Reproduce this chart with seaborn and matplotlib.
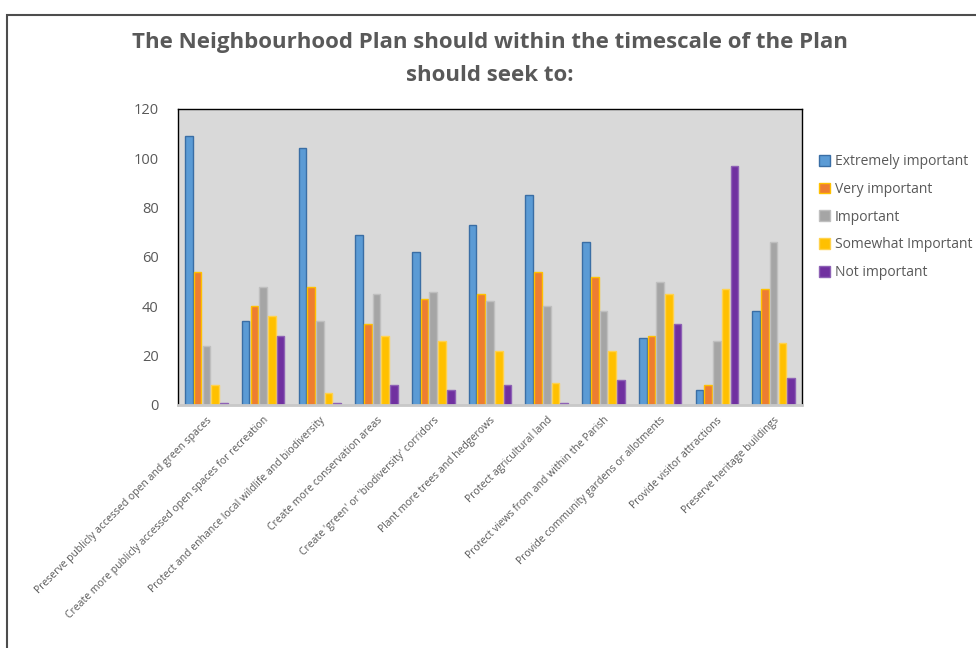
import numpy as np
import pandas as pd
import seaborn as sns
import matplotlib.pyplot as plt
from matplotlib.patches import Rectangle, Patch

categories = [
    "Preserve publicly accessed open and green spaces",
    "Create more publicly accessed open spaces for recreation",
    "Protect and enhance local wildlife and biodiversity",
    "Create more conservation areas",
    "Create 'green' or 'biodiversity' corridors",
    "Plant more trees and hedgerows",
    "Protect agricultural land",
    "Protect views from and within the Parish",
    "Provide community gardens or allotments",
    "Provide visitor attractions",
    "Preserve heritage buildings",
]
series = ["Extremely important", "Very important", "Important",
          "Somewhat Important", "Not important"]

extremely_important = [109, 34, 104, 69, 62, 73, 85, 66, 27, 6, 38]
very_important = [54, 40, 48, 33, 43, 45, 54, 52, 28, 8, 47]
important = [24, 48, 34, 45, 46, 42, 40, 38, 50, 26, 66]
somewhat_important = [8, 36, 5, 28, 26, 22, 9, 22, 45, 47, 25]
not_important = [1, 28, 1, 8, 6, 8, 1, 10, 33, 97, 11]

colors = ["#5B9BD5", "#ED7D31", "#A5A5A5", "#FFC000", "#7030A0"]
edges = ["#3A6EA5", "#FFC000", "#BFBFBF", "#FFD24D", "#8E62B5"]

values = [extremely_important, very_important, important,
          somewhat_important, not_important]
df = pd.DataFrame({
    "category": np.tile(categories, len(series)),
    "level": np.repeat(series, len(categories)),
    "count": np.concatenate(values),
})

sns.set_theme(style="white")
plt.rcParams["font.family"] = ["Open Sans", "DejaVu Sans"]
text_color = "#595959"

fig = plt.figure(figsize=(9.76, 6.48), dpi=100)
ax = fig.add_axes([0.1824, 0.375, 0.6393, 0.4568])
ax.set_facecolor("#D9D9D9")

sns.barplot(data=df, x="category", y="count", hue="level",
            order=categories, hue_order=series, palette=colors,
            width=0.77, gap=0.12, saturation=1, ax=ax, legend=False)

for cont, ec in zip(ax.containers, edges):
    for bar in cont:
        bar.set_edgecolor(ec)
        bar.set_linewidth(1.0)

ax.set_ylim(0, 120)
ax.set_yticks(range(0, 121, 20))
ax.set_xlim(-0.5, len(categories) - 0.5)
ax.set_xlabel("")
ax.set_ylabel("")
ax.tick_params(axis="y", labelsize=10.5, labelcolor=text_color, length=0, pad=14)
ax.tick_params(axis="x", length=0, pad=7)
ax.set_xticks(range(len(categories)))
ax.set_xticklabels(categories, rotation=45, ha="right", rotation_mode="anchor",
                   fontsize=7.5, color=text_color)

for side in ["top", "left", "right"]:
    ax.spines[side].set_color("black")
    ax.spines[side].set_linewidth(1.0)
ax.spines["bottom"].set_color("#C8C8C8")
ax.spines["bottom"].set_linewidth(2.0)

handles = [Patch(facecolor=c, edgecolor=e, linewidth=1.0) for c, e in zip(colors, edges)]
leg = fig.legend(handles, series, loc="upper left", bbox_to_anchor=(0.832, 0.773),
                 frameon=False, fontsize=10, labelcolor=text_color,
                 handlelength=0.8, handleheight=0.8, handletextpad=0.35,
                 labelspacing=0.92, borderpad=0)

fig.text(0.502, 0.935, "The Neighbourhood Plan should within the timescale of the Plan",
         ha="center", va="center", fontsize=16, fontweight="bold", color=text_color)
fig.text(0.502, 0.884, "should seek to:",
         ha="center", va="center", fontsize=16, fontweight="bold", color=text_color)

# chart-area frame
fig.patches.append(Rectangle((7 / 976, -0.1), 1.2, 1 - 15 / 648 + 0.1,
                             transform=fig.transFigure, fill=False,
                             edgecolor="#4D4D4D", linewidth=1.5))

fig.savefig("out.png", dpi=100)
